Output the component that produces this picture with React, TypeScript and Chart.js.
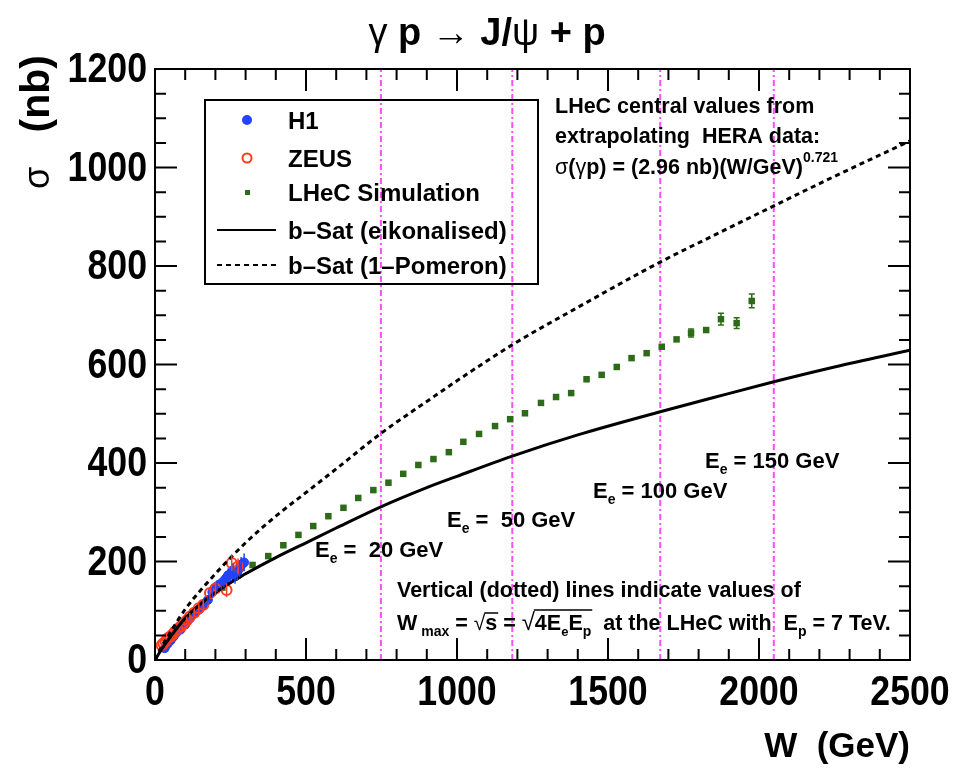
import React, { useEffect, useRef } from "react";
import { Chart, registerables } from "chart.js";

Chart.register(...registerables);

// ---------------- data ----------------
const h1W = [32, 42, 52, 62, 72, 85, 100, 115, 130, 145, 160, 175, 190, 205, 220, 228, 235, 242, 250, 258, 265, 272, 280, 285, 295];
const h1Sigma = [24, 33, 40, 48, 56, 62, 72, 84, 94, 102, 112, 122, 138, 150, 156, 160, 166, 172, 175, 182, 170, 178, 186, 192, 198];
const h1Err = [4, 4, 4, 5, 5, 5, 6, 7, 8, 8, 9, 10, 11, 12, 13, 13, 14, 14, 15, 15, 15, 16, 17, 17, 18];

const zeusW = [22, 28, 35, 42, 50, 58, 66, 75, 85, 95, 105, 115, 130, 145, 160, 182, 200, 237, 254, 275];
const zeusSigma = [30, 34, 38, 44, 47, 52, 58, 63, 68, 74, 80, 88, 96, 105, 112, 136, 145, 142, 197, 190];
const zeusErr = [5, 5, 5, 5, 5, 6, 6, 6, 7, 7, 8, 8, 9, 10, 10, 12, 13, 14, 16, 16];

const lhecW = [73, 123, 173, 223, 273, 323, 375, 425, 475, 524, 574, 624, 673, 723, 773, 822, 872, 922, 973, 1021, 1073, 1126, 1176, 1225, 1278, 1328, 1378, 1429, 1479, 1529, 1578, 1628, 1678, 1727, 1775, 1825, 1874, 1926, 1976];
const lhecSigma = [62, 96, 121, 147, 171, 193, 211, 233, 254, 272, 292, 309, 329, 345, 360, 378, 396, 408, 422, 443, 459, 475, 489, 501, 522, 534, 542, 570, 579, 595, 613, 623, 636, 651, 664, 670, 692, 684, 729];
const lhecErr = [1, 1, 1, 1, 1, 1, 1, 1, 1, 1, 1, 1, 1, 1, 1, 1, 1, 2, 2, 2, 2, 2, 2, 2, 2, 3, 3, 3, 3, 3, 3, 3, 3, 5, 8, 6, 12, 11, 14];

const eikW = [0, 20, 50, 100, 200, 300, 400, 500, 600, 748, 900, 1000, 1183, 1400, 1673, 1850, 2049, 2250, 2500];
const eikSigma = [0, 20, 46, 85, 137, 175, 208, 238, 268, 311, 350, 373, 414, 457, 504, 533, 565, 595, 629];

const pomW = [0, 20, 50, 100, 200, 300, 400, 500, 600, 748, 900, 1000, 1183, 1400, 1673, 1850, 2049, 2250, 2500];
const pomSigma = [0, 25, 55, 103, 175, 238, 292, 340, 388, 460, 525, 567, 640, 716, 808, 862, 922, 982, 1054];

const wmaxValues = [748, 1183, 1673, 2049];
const eeValues = ["20", "50", "100", "150"];

const xMin = 0, xMax = 2500, xMajor = 500, xMinor = 100;
const yMin = 0, yMax = 1200, yMajor = 200, yMinor = 50;

// ---------------- styles ----------------
const FAM = '"Liberation Sans", Arial, Helvetica, sans-serif';
const BLUE = "#2244ff";
const RED = "#ff3c1e";
const GREEN = "#2d6a1a";
const MAGENTA = "#ff4cff";

type Seg = { t: string; size: number; bold?: boolean; dy?: number };

function fontOf(s: Seg) {
  return `${s.bold === false ? "" : "bold "}${s.size}px ${FAM}`;
}

function drawRich(ctx: CanvasRenderingContext2D, segs: Seg[], x: number, y: number, align = "left") {
  let total = 0;
  for (const s of segs) {
    ctx.font = fontOf(s);
    total += ctx.measureText(s.t).width;
  }
  let cx = align === "center" ? x - total / 2 : align === "right" ? x - total : x;
  const pos: { x: number; w: number }[] = [];
  ctx.textAlign = "left";
  ctx.textBaseline = "alphabetic";
  for (const s of segs) {
    ctx.font = fontOf(s);
    ctx.fillText(s.t, cx, y + (s.dy || 0));
    const w = ctx.measureText(s.t).width;
    pos.push({ x: cx, w });
    cx += w;
  }
  return pos;
}

// condensed bold numbers like the ROOT axis labels
function drawTickLabel(ctx: CanvasRenderingContext2D, text: string, x: number, baseline: number, align: CanvasTextAlign) {
  ctx.save();
  ctx.translate(x, baseline);
  ctx.scale(0.83, 1);
  ctx.font = `bold 43px ${FAM}`;
  ctx.textAlign = align;
  ctx.textBaseline = "alphabetic";
  ctx.fillText(text, 0, 0);
  ctx.restore();
}

const decorPlugin = {
  id: "decor",
  afterDatasetsDraw(chart: any) {
    const ctx: CanvasRenderingContext2D = chart.ctx;
    chart.data.datasets.forEach((ds: any, i: number) => {
      if (!ds.errors) return;
      const meta = chart.getDatasetMeta(i);
      const ys = chart.scales.y;
      ctx.save();
      ctx.strokeStyle = ds.errColor;
      ctx.lineWidth = 1.5;
      meta.data.forEach((pt: any, j: number) => {
        const v = ds.data[j].y;
        const e = ds.errors[j];
        const y1 = ys.getPixelForValue(v + e);
        const y2 = ys.getPixelForValue(v - e);
        if (Math.abs(y2 - y1) < 7) return;
        ctx.beginPath();
        ctx.moveTo(pt.x, y1);
        ctx.lineTo(pt.x, y2);
        if (ds.caps) {
          ctx.moveTo(pt.x - 3, y1);
          ctx.lineTo(pt.x + 3, y1);
          ctx.moveTo(pt.x - 3, y2);
          ctx.lineTo(pt.x + 3, y2);
        }
        ctx.stroke();
      });
      ctx.restore();
    });
  },
  afterDraw(chart: any) {
    const ctx: CanvasRenderingContext2D = chart.ctx;
    const a = chart.chartArea;
    const xs = chart.scales.x;
    const ys = chart.scales.y;
    ctx.save();
    ctx.fillStyle = "#000";
    ctx.strokeStyle = "#000";

    // frame
    ctx.lineWidth = 2;
    ctx.strokeRect(a.left, a.top, a.right - a.left, a.bottom - a.top);

    // inside ticks
    ctx.beginPath();
    for (let v = xMin; v <= xMax; v += xMinor) {
      const px = xs.getPixelForValue(v);
      const len = v % xMajor === 0 ? 22 : 11;
      ctx.moveTo(px, a.bottom);
      ctx.lineTo(px, a.bottom - len);
      ctx.moveTo(px, a.top);
      ctx.lineTo(px, a.top + len);
    }
    for (let v = yMin; v <= yMax; v += yMinor) {
      const py = ys.getPixelForValue(v);
      const len = v % yMajor === 0 ? 22 : 11;
      ctx.moveTo(a.left, py);
      ctx.lineTo(a.left + len, py);
      ctx.moveTo(a.right, py);
      ctx.lineTo(a.right - len, py);
    }
    ctx.stroke();

    // tick labels (values from the scales)
    ys.ticks.forEach((t: any) => {
      const py = ys.getPixelForValue(t.value);
      drawTickLabel(ctx, String(t.value), a.left - 8, py + 13, "right");
    });
    xs.ticks.forEach((t: any) => {
      const px = xs.getPixelForValue(t.value);
      drawTickLabel(ctx, String(t.value), px, a.bottom + 45, "center");
    });

    // title
    drawRich(
      ctx,
      [
        { t: "γ", size: 38, bold: false },
        { t: " p ", size: 38 },
        { t: "→", size: 38, bold: false },
        { t: " J/", size: 38 },
        { t: "ψ", size: 38, bold: false },
        { t: " + p", size: 38 },
      ],
      487,
      45,
      "center"
    );

    // x-axis title
    drawRich(ctx, [{ t: "W  (GeV)", size: 35 }], 910, 757, "right");

    // y-axis title (rotated)
    ctx.save();
    ctx.translate(49, 189);
    ctx.rotate(-Math.PI / 2);
    ctx.font = `36px ${FAM}`;
    ctx.textAlign = "left";
    ctx.textBaseline = "alphabetic";
    ctx.fillText("σ", 0, 0);
    ctx.font = `bold 41px ${FAM}`;
    const nbw = ctx.measureText("(nb)").width;
    ctx.fillText("(nb)", 134 - nbw, 0);
    ctx.restore();

    // legend box
    ctx.lineWidth = 2;
    ctx.strokeRect(205, 100, 333, 184);
    ctx.fillStyle = BLUE;
    ctx.beginPath();
    ctx.arc(247, 120, 5, 0, Math.PI * 2);
    ctx.fill();
    ctx.strokeStyle = RED;
    ctx.lineWidth = 2;
    ctx.beginPath();
    ctx.arc(247, 158, 4.5, 0, Math.PI * 2);
    ctx.stroke();
    ctx.fillStyle = GREEN;
    ctx.fillRect(245, 190, 5, 5);
    ctx.strokeStyle = "#000";
    ctx.lineWidth = 2;
    ctx.beginPath();
    ctx.moveTo(217, 230);
    ctx.lineTo(276, 230);
    ctx.stroke();
    ctx.setLineDash([5, 4]);
    ctx.beginPath();
    ctx.moveTo(217, 265);
    ctx.lineTo(276, 265);
    ctx.stroke();
    ctx.setLineDash([]);
    ctx.fillStyle = "#000";
    const legendTexts = ["H1", "ZEUS", "LHeC Simulation", "b\u2013Sat (eikonalised)", "b\u2013Sat (1\u2013Pomeron)"];
    const legendY = [129, 167, 201, 239, 274];
    legendTexts.forEach((t, i) => drawRich(ctx, [{ t, size: 24 }], 288, legendY[i]));

    // top right note
    drawRich(ctx, [{ t: "LHeC central values from", size: 21.5 }], 555, 113);
    drawRich(ctx, [{ t: "extrapolating  HERA data:", size: 21.5 }], 555, 143);
    drawRich(
      ctx,
      [
        { t: "σ", size: 21.5, bold: false },
        { t: "(", size: 21.5 },
        { t: "γ", size: 21.5, bold: false },
        { t: "p) = (2.96 nb)(W/GeV)", size: 21.5 },
        { t: "0.721", size: 14, dy: -12 },
      ],
      555,
      174
    );

    // Ee labels
    const eePos = [
      [315, 557],
      [447, 527],
      [593, 498],
      [705, 468],
    ];
    eeValues.forEach((v, i) => {
      const gap = v.length < 3 ? "  " : " ";
      drawRich(
        ctx,
        [
          { t: "E", size: 22 },
          { t: "e", size: 14, dy: 6 },
          { t: " =" + gap + v + " GeV", size: 22 },
        ],
        eePos[i][0],
        eePos[i][1]
      );
    });

    // bottom note
    drawRich(ctx, [{ t: "Vertical (dotted) lines indicate values of", size: 21.5 }], 397, 597);
    const p = drawRich(
      ctx,
      [
        { t: "W", size: 21.5 },
        { t: " max", size: 14, dy: 6 },
        { t: " = ", size: 21.5 },
        { t: "√", size: 21, bold: false },
        { t: "s", size: 21.5 },
        { t: " = ", size: 21.5 },
        { t: "√", size: 24, bold: false },
        { t: "4E", size: 21.5 },
        { t: "e", size: 13, dy: 6 },
        { t: "E", size: 21.5 },
        { t: "p", size: 14, dy: 6 },
        { t: "  at the LHeC with  E", size: 21.5 },
        { t: "p", size: 14, dy: 6 },
        { t: " = 7 TeV.", size: 21.5 },
      ],
      397,
      630
    );
    ctx.lineWidth = 1.5;
    ctx.strokeStyle = "#000";
    ctx.beginPath();
    ctx.moveTo(p[3].x + p[3].w - 1, 613);
    ctx.lineTo(p[4].x + p[4].w + 1, 613);
    ctx.moveTo(p[6].x + p[6].w - 1, 610);
    ctx.lineTo(p[10].x + p[10].w + 1, 610);
    ctx.stroke();

    ctx.restore();
  },
};

export default function App() {
  const ref = useRef<HTMLCanvasElement | null>(null);

  useEffect(() => {
    document.body.style.margin = "0";
    const canvas = ref.current;
    if (!canvas) return;
    const toXY = (xs: number[], ys: number[]) => xs.map((x, i) => ({ x, y: ys[i] }));

    const vLines = wmaxValues.map((w) => ({
      label: "Wmax " + w,
      data: [
        { x: w, y: yMin },
        { x: w, y: yMax },
      ],
      showLine: true,
      borderColor: MAGENTA,
      borderWidth: 2,
      borderDash: [6, 3, 2, 3],
      pointRadius: 0,
      order: 5,
    }));

    const chart = new Chart(canvas, {
      type: "scatter",
      data: {
        datasets: [
          {
            label: "b-Sat (eikonalised)",
            data: toXY(eikW, eikSigma),
            showLine: true,
            borderColor: "#000",
            borderWidth: 3,
            pointRadius: 0,
            cubicInterpolationMode: "monotone",
            order: 1,
          },
          {
            label: "b-Sat (1-Pomeron)",
            data: toXY(pomW, pomSigma),
            showLine: true,
            borderColor: "#000",
            borderWidth: 3,
            borderDash: [5, 4],
            pointRadius: 0,
            cubicInterpolationMode: "monotone",
            order: 1,
          },
          {
            label: "H1",
            data: toXY(h1W, h1Sigma),
            errors: h1Err,
            errColor: BLUE,
            pointStyle: "circle",
            pointRadius: 4.5,
            backgroundColor: BLUE,
            borderColor: BLUE,
            borderWidth: 1,
            order: 3,
          },
          {
            label: "ZEUS",
            data: toXY(zeusW, zeusSigma),
            errors: zeusErr,
            errColor: RED,
            pointStyle: "circle",
            pointRadius: 5,
            backgroundColor: "rgba(0,0,0,0)",
            borderColor: RED,
            borderWidth: 2,
            order: 2,
          },
          {
            label: "LHeC Simulation",
            data: toXY(lhecW, lhecSigma),
            errors: lhecErr,
            errColor: GREEN,
            caps: true,
            pointStyle: "rect",
            pointRadius: 4.6,
            backgroundColor: GREEN,
            borderColor: GREEN,
            borderWidth: 0,
            order: 4,
          },
          ...vLines,
        ] as any,
      },
      options: {
        animation: false,
        responsive: false,
        devicePixelRatio: 1,
        events: [],
        layout: { padding: { top: 69, right: 53, left: 0, bottom: 0 } },
        plugins: {
          legend: { display: false },
          tooltip: { enabled: false },
          title: { display: false },
        },
        scales: {
          x: {
            type: "linear",
            min: xMin,
            max: xMax,
            grid: { display: false },
            border: { display: false },
            ticks: { stepSize: xMajor, autoSkip: false, display: false },
            afterFit: (s: any) => {
              s.height = 115;
            },
          },
          y: {
            type: "linear",
            min: yMin,
            max: yMax,
            grid: { display: false },
            border: { display: false },
            ticks: { stepSize: yMajor, autoSkip: false, display: false },
            afterFit: (s: any) => {
              s.width = 155;
            },
          },
        },
      } as any,
      plugins: [decorPlugin],
    });
    return () => chart.destroy();
  }, []);

  return (
    <div style={{ position: "absolute", left: 0, top: 0, width: 963, height: 775, background: "#fff" }}>
      <canvas ref={ref} width={963} height={775} style={{ width: 963, height: 775, display: "block" }} />
    </div>
  );
}
